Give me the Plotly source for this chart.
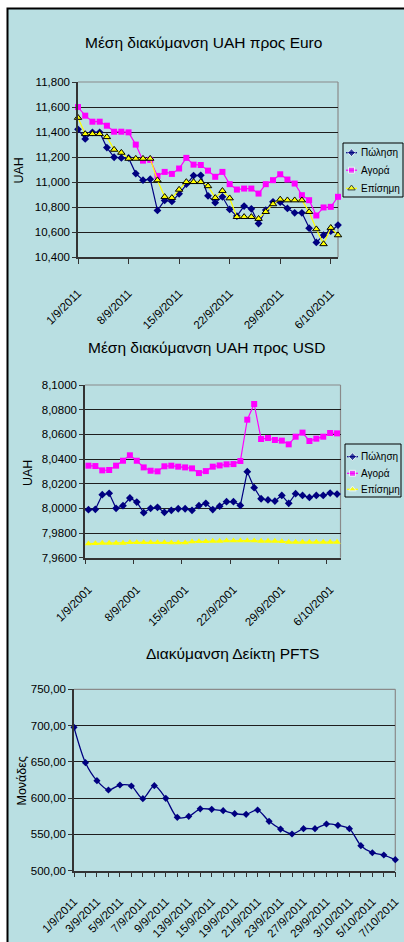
import plotly.graph_objects as go

W, H = 404, 942
def px(x): return x / W
def py(y): return 1 - y / H

FONT = "Liberation Sans, Arial, sans-serif"
BG = "#B9DFE2"
GRID = "#1e1e1e"
AXC = "#333333"
NAVY = "#000080"
MAG = "#FF00FF"
YEL = "#FFFF00"

# ---------------- data ----------------
dates = ["2011-09-01", "2011-09-02", "2011-09-03", "2011-09-04", "2011-09-05", "2011-09-06",
         "2011-09-07", "2011-09-08", "2011-09-09", "2011-09-10", "2011-09-11", "2011-09-12",
         "2011-09-13", "2011-09-14", "2011-09-15", "2011-09-16", "2011-09-17", "2011-09-18",
         "2011-09-19", "2011-09-20", "2011-09-21", "2011-09-22", "2011-09-23", "2011-09-24",
         "2011-09-25", "2011-09-26", "2011-09-27", "2011-09-28", "2011-09-29", "2011-09-30",
         "2011-10-01", "2011-10-02", "2011-10-03", "2011-10-04", "2011-10-05", "2011-10-06",
         "2011-10-07"]

eur_sell = [11422, 11345, 11398, 11398, 11276, 11199, 11194, 11194, 11069, 11016,
            11024, 10774, 10854, 10846, 10907, 10984, 11053, 11055, 10891, 10836,
            10883, 10782, 10729, 10809, 10787, 10670, 10777, 10843, 10840, 10790,
            10755, 10755, 10633, 10519, 10577, 10609, 10657]
eur_buy = [11600, 11531, 11483, 11483, 11451, 11403, 11403, 11398, 11300, 11172,
           11178, 11050, 11082, 11066, 11109, 11194, 11140, 11137, 11092, 11043,
           11082, 10984, 10941, 10949, 10949, 10909, 10984, 11016, 11063, 11021,
           10989, 10896, 10856, 10734, 10798, 10803, 10883]
eur_official = [11515, 11385, 11385, 11385, 11361, 11260, 11236, 11188, 11188, 11188,
                11188, 11016, 10883, 10875, 10941, 11002, 11002, 11002, 10969, 10875,
                10931, 10872, 10723, 10723, 10723, 10708, 10763, 10825, 10862, 10856,
                10856, 10856, 10763, 10625, 10506, 10636, 10577]

usd_sell = [7.9989, 7.9992, 8.0111, 8.0122, 8.0000, 8.0022, 8.0084, 8.0051, 7.9965, 8.0000,
            8.0008, 7.9968, 7.9984, 7.9997, 7.9997, 7.9984, 8.0022, 8.0041, 7.9990, 8.0018,
            8.0054, 8.0054, 8.0024, 8.0297, 8.0168, 8.0078, 8.0068, 8.0059, 8.0105, 8.0041,
            8.0119, 8.0105, 8.0089, 8.0105, 8.0105, 8.0124, 8.0116]
usd_buy = [8.0346, 8.0343, 8.0308, 8.0311, 8.0346, 8.0386, 8.0430, 8.0386, 8.0332, 8.0305,
           8.0300, 8.0341, 8.0346, 8.0338, 8.0332, 8.0324, 8.0286, 8.0302, 8.0338, 8.0348,
           8.0357, 8.0359, 8.0384, 8.0719, 8.0846, 8.0562, 8.0570, 8.0554, 8.0549, 8.0519,
           8.0581, 8.0614, 8.0546, 8.0565, 8.0581, 8.0611, 8.0608]
usd_official = [7.9714, 7.9716, 7.9719, 7.9719, 7.9719, 7.9719, 7.9724, 7.9724, 7.9724, 7.9724,
                7.9724, 7.9724, 7.9722, 7.9722, 7.9722, 7.9730, 7.9732, 7.9732, 7.9735, 7.9735,
                7.9738, 7.9738, 7.9738, 7.9738, 7.9738, 7.9735, 7.9735, 7.9735, 7.9732, 7.9727,
                7.9727, 7.9727, 7.9727, 7.9727, 7.9727, 7.9727, 7.9727]

pfts_dates = ["1/9/2011", "2/9/2011", "3/9/2011", "4/9/2011", "5/9/2011", "6/9/2011",
              "7/9/2011", "8/9/2011", "9/9/2011", "12/9/2011", "13/9/2011", "14/9/2011",
              "15/9/2011", "16/9/2011", "19/9/2011", "20/9/2011", "21/9/2011", "22/9/2011",
              "23/9/2011", "26/9/2011", "27/9/2011", "28/9/2011", "29/9/2011", "30/9/2011",
              "3/10/2011", "4/10/2011", "5/10/2011", "6/10/2011", "7/10/2011"]
pfts = [697.6, 648.9, 624.1, 611.2, 618.1, 616.7, 599.3, 617.2, 599.7, 573.5,
        574.9, 585.3, 584.6, 582.7, 578.6, 577.7, 583.6, 568.0, 557.4, 550.6,
        557.9, 557.9, 564.3, 562.5, 557.9, 534.5, 524.8, 521.6, 515.2]

# tick labels
x1_tickdates = ["2011-09-01", "2011-09-08", "2011-09-15", "2011-09-22", "2011-09-29", "2011-10-06"]
x1_ticktext = ["1/9/2011", "8/9/2011", "15/9/2011", "22/9/2011", "29/9/2011", "6/10/2011"]
x2_ticktext = ["1/9/2001", "8/9/2001", "15/9/2001", "22/9/2001", "29/9/2001", "6/10/2001"]
y1_vals = [10400, 10600, 10800, 11000, 11200, 11400, 11600, 11800]
y1_text = ["10,400", "10,600", "10,800", "11,000", "11,200", "11,400", "11,600", "11,800"]
y2_vals = [7.96, 7.98, 8.00, 8.02, 8.04, 8.06, 8.08, 8.10]
y2_text = ["7,9600", "7,9800", "8,0000", "8,0200", "8,0400", "8,0600", "8,0800", "8,1000"]
y3_vals = [500, 550, 600, 650, 700, 750]
y3_text = ["500,00", "550,00", "600,00", "650,00", "700,00", "750,00"]

series_names = ["Πώληση", "Αγορά", "Επίσημη"]
titles = ["Μέση διακύμανση UAH προς Euro", "Μέση διακύμανση UAH προς USD", "Διακύμανση Δείκτη PFTS"]

fig = go.Figure()

# ---------------- chart 1 (Euro) ----------------
fig.add_trace(go.Scatter(x=dates, y=eur_sell, name=series_names[0], xaxis="x", yaxis="y",
                         mode="lines+markers", line=dict(color=NAVY, width=1.2),
                         marker=dict(symbol="diamond", size=6, color=NAVY), cliponaxis=False))
fig.add_trace(go.Scatter(x=dates, y=eur_buy, name=series_names[1], xaxis="x", yaxis="y",
                         mode="lines+markers", line=dict(color=MAG, width=1.2),
                         marker=dict(symbol="square", size=6, color=MAG), cliponaxis=False))
fig.add_trace(go.Scatter(x=dates, y=eur_official, name=series_names[2], xaxis="x", yaxis="y",
                         mode="lines+markers", line=dict(color=YEL, width=1.2),
                         marker=dict(symbol="triangle-up", size=6.5, color=YEL,
                                     line=dict(color="black", width=1)), cliponaxis=False))

# ---------------- chart 2 (USD) ----------------
fig.add_trace(go.Scatter(x=dates, y=usd_sell, name=series_names[0], xaxis="x2", yaxis="y2",
                         mode="lines+markers", line=dict(color=NAVY, width=1.2),
                         marker=dict(symbol="diamond", size=6, color=NAVY), cliponaxis=False))
fig.add_trace(go.Scatter(x=dates, y=usd_buy, name=series_names[1], xaxis="x2", yaxis="y2",
                         mode="lines+markers", line=dict(color=MAG, width=1.2),
                         marker=dict(symbol="square", size=6, color=MAG), cliponaxis=False))
fig.add_trace(go.Scatter(x=dates, y=usd_official, name=series_names[2], xaxis="x2", yaxis="y2",
                         mode="lines+markers", line=dict(color=YEL, width=1.2),
                         marker=dict(symbol="triangle-up", size=6.5, color=YEL), cliponaxis=False))

# ---------------- chart 3 (PFTS) ----------------
fig.add_trace(go.Scatter(x=pfts_dates, y=pfts, name="PFTS", xaxis="x3", yaxis="y3",
                         mode="lines+markers", line=dict(color=NAVY, width=1.3, shape="spline", smoothing=0.8),
                         marker=dict(symbol="diamond", size=5.5, color=NAVY), cliponaxis=False))

# ---------------- manual legends (pixel overlay axis) ----------------
leg_styles = [
    dict(color=NAVY, symbol="diamond", size=6, line=None),
    dict(color=MAG, symbol="square", size=6, line=None),
    dict(color=YEL, symbol="triangle-up", size=6.5, line=dict(color="black", width=1)),
]
legends = [
    dict(box=(343, 143, 403, 197), rows=[152.7, 170.2, 188.3], x0=346, x1=357, tx=358.5, outline=True),
    dict(box=(345, 444, 401, 497), rows=[456.7, 473.3, 489.3], x0=347, x1=358, tx=359, outline=False),
]
shapes = []
annotations = []
for lg in legends:
    bx0, by0, bx1, by1 = lg["box"]
    shapes.append(dict(type="rect", xref="paper", yref="paper", x0=px(bx0), x1=px(bx1),
                       y0=py(by1), y1=py(by0), line=dict(color="black", width=1), layer="below"))
    for k, yc in enumerate(lg["rows"]):
        st = leg_styles[k]
        mk = dict(symbol=st["symbol"], size=[0, st["size"], 0], color=st["color"])
        if st["line"] is not None and lg["outline"]:
            mk["line"] = st["line"]
        fig.add_trace(go.Scatter(x=[lg["x0"], (lg["x0"] + lg["x1"]) / 2, lg["x1"]], y=[yc, yc, yc],
                                 xaxis="x4", yaxis="y4", mode="lines+markers",
                                 line=dict(color=st["color"], width=1.2), marker=mk,
                                 showlegend=False, hoverinfo="skip", cliponaxis=False))
        annotations.append(dict(x=px(lg["tx"]), y=py(yc), xref="paper", yref="paper",
                                text=series_names[k], showarrow=False, xanchor="left",
                                yanchor="middle", font=dict(size=10, color="black", family=FONT)))

# panel background
shapes.insert(0, dict(type="rect", xref="paper", yref="paper", x0=px(7.5), x1=px(410),
                      y0=py(950), y1=py(8.5), fillcolor=BG, line=dict(color="black", width=2),
                      layer="below"))

# plot-area borders (gray top/right)
plot_boxes = [(78, 82, 338, 257.3), (85, 385, 340.5, 557.7), (74, 689.3, 395.3, 870.7)]
for (x0, y0, x1, y1) in plot_boxes:
    shapes.append(dict(type="line", xref="paper", yref="paper", x0=px(x0), x1=px(x1),
                       y0=py(y0), y1=py(y0), line=dict(color="#8a8a8a", width=1.2), layer="above"))
    shapes.append(dict(type="line", xref="paper", yref="paper", x0=px(x1), x1=px(x1),
                       y0=py(y0), y1=py(y1), line=dict(color="#8a8a8a", width=1.2), layer="below"))

# titles
for t, (cx, cy) in zip(titles, [(203, 43), (206, 347), (233, 653)]):
    annotations.append(dict(x=px(cx), y=py(cy), xref="paper", yref="paper", text=t,
                            showarrow=False, xanchor="center", yanchor="middle",
                            font=dict(size=15.5, color="black", family=FONT)))
# y-axis titles
for t, (cx, cy) in zip(["UAH", "UAH", "Μονάδες"], [(18.5, 171), (28, 473), (21.5, 781)]):
    annotations.append(dict(x=px(cx), y=py(cy), xref="paper", yref="paper", text=t,
                            showarrow=False, textangle=-90, xanchor="center", yanchor="middle",
                            font=dict(size=12.5, color="black", family=FONT)))

tickfont = dict(size=11.5, color="black", family=FONT)
common_y = dict(showline=True, linecolor=AXC, linewidth=1.5, ticks="outside", ticklen=4,
                tickcolor=AXC, showgrid=True, gridcolor=GRID, gridwidth=1, zeroline=False,
                tickfont=tickfont, fixedrange=True, automargin=False)

fig.update_layout(
    template="none",
    width=W, height=H, autosize=False,
    margin=dict(l=0, r=0, t=0, b=0, pad=0),
    paper_bgcolor="white", plot_bgcolor="rgba(0,0,0,0)",
    showlegend=False,
    font=dict(family=FONT, color="black"),
    shapes=shapes, annotations=annotations,
    xaxis=dict(domain=[px(78), px(338)], anchor="y", type="date", automargin=False,
               range=[dates[0], dates[-1]], tickmode="array", tickvals=x1_tickdates,
               ticktext=x1_ticktext, tickangle=-45, ticks="outside", ticklen=5, tickcolor=AXC,
               showline=True, linecolor=AXC, linewidth=1.5, showgrid=False, zeroline=False,
               tickfont=tickfont, ticklabelstandoff=18),
    yaxis=dict(domain=[py(257.3), py(82)], anchor="x", range=[10400, 11800],
               tickmode="array", tickvals=y1_vals, ticktext=y1_text, **common_y),
    xaxis2=dict(domain=[px(85), px(340.5)], anchor="y2", type="date", automargin=False,
                range=["2011-08-31 12:00", "2011-10-07 12:00"], tickmode="array",
                tickvals=x1_tickdates, ticktext=x2_ticktext, tickangle=-45, ticks="",
                minor=dict(tickmode="array",
                           tickvals=["2011-08-31 12:00", "2011-09-07 12:00", "2011-09-14 12:00",
                                     "2011-09-21 12:00", "2011-09-28 12:00", "2011-10-05 12:00"],
                           ticks="outside", ticklen=5, tickcolor=AXC, showgrid=False),
                showline=True, linecolor=AXC, linewidth=1.5, showgrid=False, zeroline=False,
                tickfont=tickfont, ticklabelstandoff=19),
    yaxis2=dict(domain=[py(557.7), py(385)], anchor="x2", range=[7.96, 8.10],
                tickmode="array", tickvals=y2_vals, ticktext=y2_text, **common_y),
    xaxis3=dict(domain=[px(74), px(395.3)], anchor="y3", type="category", automargin=False,
                range=[0, len(pfts_dates) - 1], tickmode="array", tickvals=pfts_dates,
                ticktext=[d if i % 2 == 0 else "" for i, d in enumerate(pfts_dates)],
                tickangle=-45, ticks="outside", ticklen=5, tickcolor=AXC,
                showline=True, linecolor=AXC, linewidth=1.5, showgrid=False, zeroline=False,
                tickfont=tickfont, ticklabelstandoff=13),
    yaxis3=dict(domain=[py(870.7), py(689.3)], anchor="x3", range=[500, 750],
                tickmode="array", tickvals=y3_vals, ticktext=y3_text, **common_y),
    xaxis4=dict(domain=[0, 1], anchor="y4", range=[0, W], visible=False, fixedrange=True,
                automargin=False),
    yaxis4=dict(domain=[0, 1], anchor="x4", range=[H, 0], visible=False, fixedrange=True,
                automargin=False),
)

fig.write_html("out.html", config={"displayModeBar": False},
               post_script="document.body.style.margin='0';document.body.style.overflow='hidden';")
